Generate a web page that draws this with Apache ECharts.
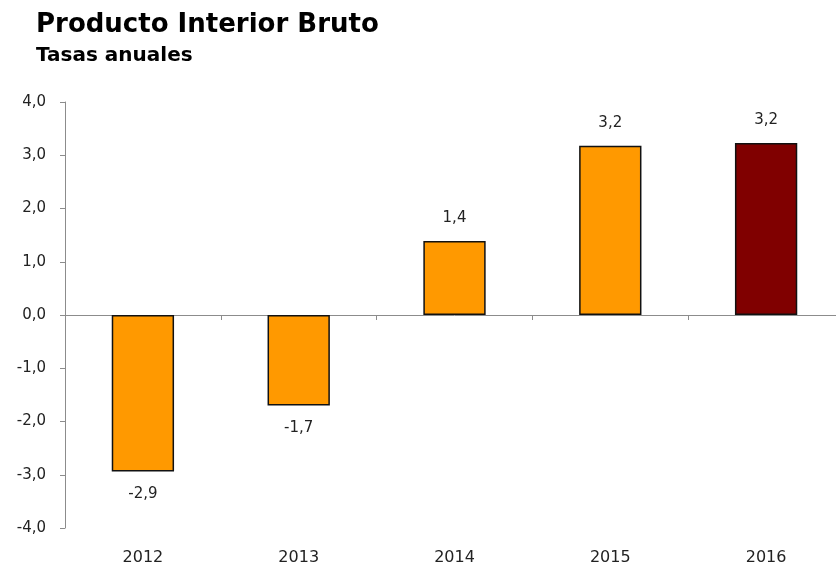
<!DOCTYPE html>
<html>
<head>
<meta charset="utf-8">
<script src="https://cdn.jsdelivr.net/npm/echarts@6/dist/echarts.min.js"></script>
<style>
html, body { margin: 0; padding: 0; background: #fff; overflow: hidden; }
/* a bit wider than the window: the plot area runs past the right edge */
#chart { width: 846px; height: 566px; }
</style>
</head>
<body>
<div id="chart"></div>
<script>
var years = ['2012', '2013', '2014', '2015', '2016'];
var tasas = [-2.94, -1.70, 1.39, 3.18, 3.23];
var colores = ['#FF9900', '#FF9900', '#FF9900', '#FF9900', '#800000'];

var fmt = function (v) { return v.toFixed(1).replace('.', ','); };

var chart = echarts.init(document.getElementById('chart'));
chart.setOption({
	animation: false,
	title: {
		text: 'Producto Interior Bruto',
		subtext: 'Tasas anuales',
		left: 31, top: 7, itemGap: 8,
		textStyle: { fontFamily: 'DejaVu Sans', fontWeight: 'bold', fontSize: 26, color: '#000' },
		subtextStyle: { fontFamily: 'DejaVu Sans', fontWeight: 'bold', fontSize: 20, color: '#000' }
	},
	grid: { left: 65, right: 2, top: 102, bottom: 38 },
	xAxis: {
		type: 'category',
		data: years,
		axisLine: { onZero: true, lineStyle: { color: '#8c8c8c' } },
		axisTick: { show: true, length: 5, lineStyle: { color: '#8c8c8c' } },
		axisLabel: { color: '#222', fontFamily: 'DejaVu Sans', fontSize: 16, margin: 22 },
		position: 'bottom'
	},
	yAxis: {
		type: 'value',
		min: -4, max: 4, interval: 1,
		axisLine: { show: true, lineStyle: { color: '#8c8c8c' } },
		axisTick: { show: true, length: 5, lineStyle: { color: '#8c8c8c' } },
		splitLine: { show: false },
		axisLabel: { color: '#222', fontFamily: 'DejaVu Sans', fontSize: 15, margin: 19, formatter: fmt }
	},
	series: [{
		type: 'bar',
		barWidth: '40%',
		data: tasas.map(function (v, i) {
			return {
				value: v,
				itemStyle: { color: colores[i], borderColor: '#111', borderWidth: 1.5 },
				label: { position: v < 0 ? 'bottom' : 'top' }
			};
		}),
		label: {
			show: true, distance: 15, color: '#222', fontFamily: 'DejaVu Sans', fontSize: 15,
			formatter: function (p) { return fmt(p.value); }
		}
	}]
});
</script>
</body>
</html>
